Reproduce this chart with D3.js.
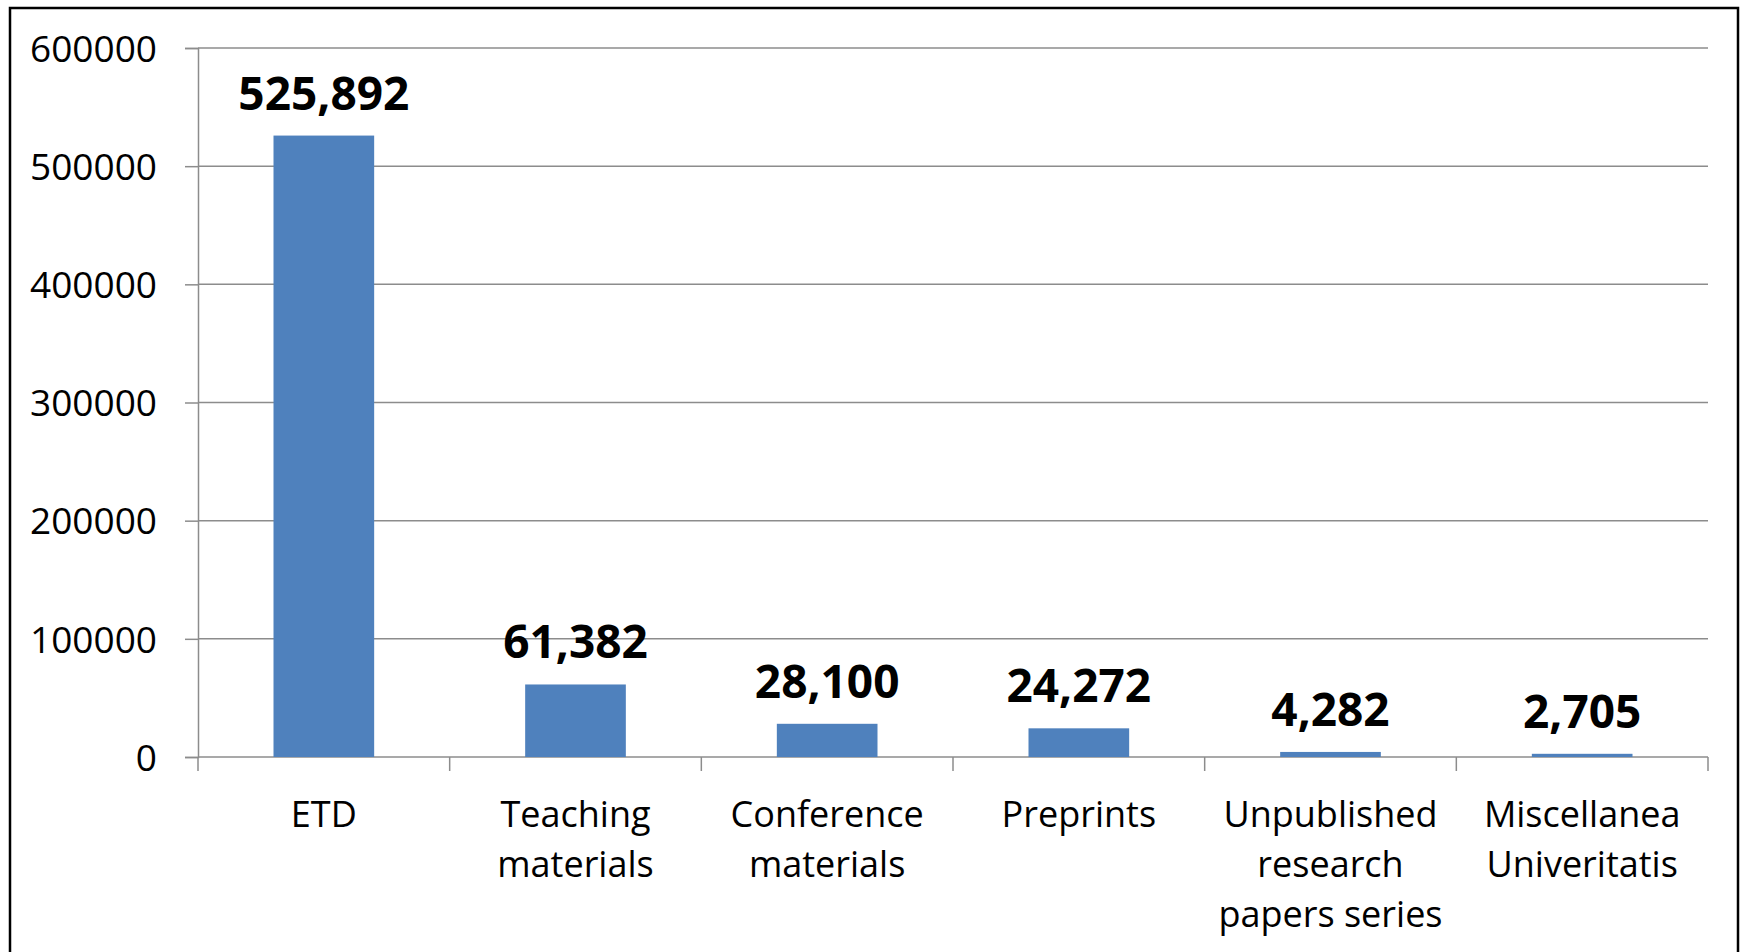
<!DOCTYPE html>
<html>
<head>
<meta charset="utf-8">
<script src="https://cdn.jsdelivr.net/npm/d3@7"></script>
<style>
  body { margin: 0; background: #fff; }
  svg { display: block; }
  text { font-family: "Open Sans", "Noto Sans", sans-serif; }
</style>
</head>
<body>
<svg id="chart"></svg>
<script>
// data
var categories = ["ETD", "Teaching materials", "Conference materials", "Preprints", "Unpublished research papers series", "Miscellanea Univeritatis"];
var catLines = [["ETD"], ["Teaching", "materials"], ["Conference", "materials"], ["Preprints"], ["Unpublished", "research", "papers series"], ["Miscellanea", "Univeritatis"]];
var counts = [525892, 61382, 28100, 24272, 4282, 2705];
var yTicks = [0, 100000, 200000, 300000, 400000, 500000, 600000];

var W = 1741, H = 952;
var margin = {top: 48, right: 33, bottom: 195, left: 198};
var width = W - margin.left - margin.right;
var height = H - margin.top - margin.bottom;

var svg = d3.select("#chart").attr("width", W).attr("height", H);

// outer frame (bottom edge falls off the picture)
svg.append("rect")
  .attr("x", 10).attr("y", 8)
  .attr("width", 1728).attr("height", 1000)
  .attr("fill", "none").attr("stroke", "#000").attr("stroke-width", 2.5);

var g = svg.append("g")
  .attr("transform", "translate(" + margin.left + "," + margin.top + ")");

var x = d3.scaleBand()
  .domain(categories)
  .range([0, width])
  .paddingInner(0.6)
  .paddingOuter(0.3);

var y = d3.scaleLinear()
  .domain([0, 600000])
  .range([height, 0]);

// gridlines
g.selectAll(".grid")
  .data(yTicks.slice(1))
  .enter().append("line")
  .attr("class", "grid")
  .attr("x1", 0).attr("x2", width)
  .attr("y1", d => y(d)).attr("y2", d => y(d))
  .attr("stroke", "#8c8c8c").attr("stroke-width", 1.5);

// y axis
var yAxis = g.append("g")
  .call(d3.axisLeft(y).tickValues(yTicks).tickSize(13).tickPadding(28).tickFormat(d3.format("d")));
yAxis.select(".domain").attr("stroke", "#8c8c8c").attr("stroke-width", 1.5);
yAxis.selectAll(".tick line").attr("stroke", "#8c8c8c").attr("stroke-width", 1.5);
yAxis.selectAll(".tick text")
  .attr("fill", "#000")
  .style("font-size", "37px")
  .attr("dy", "0.36em");

// x axis: boundary ticks between categories
var step = width / categories.length;
var bounds = d3.range(categories.length + 1).map(i => i * step);
g.append("line")
  .attr("x1", 0).attr("x2", width)
  .attr("y1", height).attr("y2", height)
  .attr("stroke", "#8c8c8c").attr("stroke-width", 1.5);
g.selectAll(".xtick")
  .data(bounds)
  .enter().append("line")
  .attr("class", "xtick")
  .attr("x1", d => d).attr("x2", d => d)
  .attr("y1", height).attr("y2", height + 14)
  .attr("stroke", "#8c8c8c").attr("stroke-width", 1.5);

// category labels
var labels = g.selectAll(".xlabel")
  .data(categories)
  .enter().append("text")
  .attr("class", "xlabel")
  .attr("text-anchor", "middle")
  .attr("fill", "#000")
  .style("font-size", "36px");
labels.each(function(d, i) {
  var t = d3.select(this);
  catLines[i].forEach(function(line, j) {
    t.append("tspan")
      .attr("x", x(d) + x.bandwidth() / 2)
      .attr("y", height + 70 + j * 50)
      .text(line);
  });
});

// bars
g.selectAll(".bar")
  .data(counts)
  .enter().append("rect")
  .attr("class", "bar")
  .attr("x", (d, i) => x(categories[i]))
  .attr("y", d => y(d))
  .attr("width", x.bandwidth())
  .attr("height", d => height - y(d))
  .attr("fill", "#4f81bd");

// value labels
g.selectAll(".val")
  .data(counts)
  .enter().append("text")
  .attr("class", "val")
  .attr("x", (d, i) => x(categories[i]) + x.bandwidth() / 2)
  .attr("y", d => y(d) - 26)
  .attr("text-anchor", "middle")
  .attr("fill", "#000")
  .style("font-size", "46px")
  .style("font-weight", "bold")
  .text(d => d3.format(",")(d));
</script>
</body>
</html>
